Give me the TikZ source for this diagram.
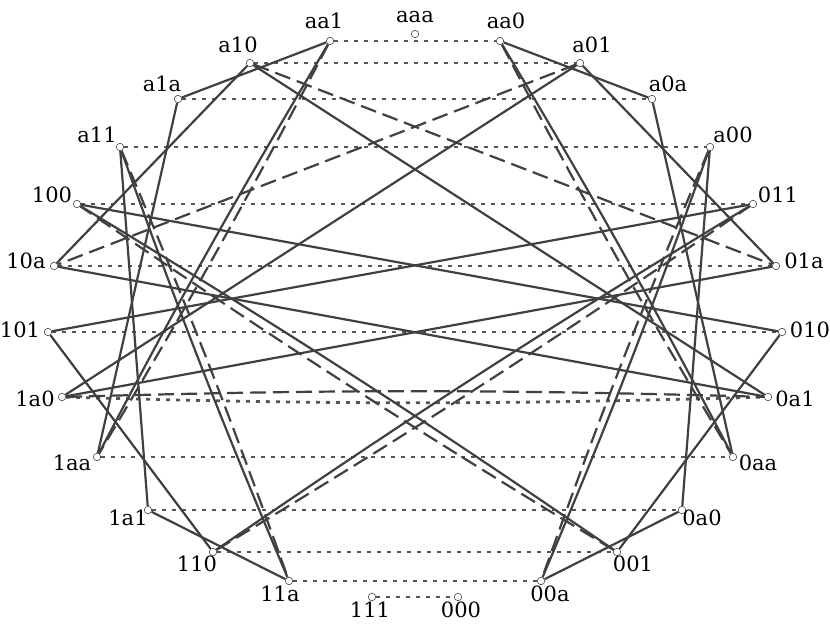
\documentclass[tikz,border=0pt]{standalone}
\usepackage{fontspec}
\setmainfont{DejaVu Serif}
\usetikzlibrary{backgrounds}
\definecolor{edgecol}{HTML}{404040}
\definecolor{dotcol}{HTML}{555555}
\begin{document}
\begin{tikzpicture}[x=1pt,y=1pt,
  vtx/.style={circle,draw=black!70,line width=0.6pt,fill=white,minimum size=7.5pt,inner sep=0pt},
  lab/.style={font=\fontsize{21}{24}\selectfont,inner sep=0pt,text=black,text height=0.85em,text depth=0pt},
  every label/.style={lab}, label distance=0pt,
  sol/.style={draw=edgecol,line width=2.2pt},
  dsh/.style={sol,dash pattern=on 16pt off 7pt},
  dtt/.style={draw=dotcol,line width=2.8pt,dash pattern=on 4pt off 6pt},
  bb/.style={bend left=1.6},
  br/.style={bend right=1.6}]
\useasboundingbox (0,0) rectangle (830,630);
% nodes
\node[vtx,label={[xshift=0pt,yshift=16pt]center:aaa}] (naaa) at (415,596) {};
\node[vtx,label={[xshift=-6pt,yshift=17pt]center:aa1}] (naa1) at (330,589) {};
\node[vtx,label={[xshift=6pt,yshift=17pt]center:aa0}] (naa0) at (500,589) {};
\node[vtx,label={[xshift=-12pt,yshift=15pt]center:a10}] (na10) at (250,567) {};
\node[vtx,label={[xshift=12pt,yshift=15pt]center:a01}] (na01) at (580,567) {};
\node[vtx,label={[xshift=-16pt,yshift=12pt]center:a1a}] (na1a) at (178,531) {};
\node[vtx,label={[xshift=16pt,yshift=12pt]center:a0a}] (na0a) at (652,531) {};
\node[vtx,label={[xshift=-23pt,yshift=9pt]center:a11}] (na11) at (120,483) {};
\node[vtx,label={[xshift=23pt,yshift=9pt]center:a00}] (na00) at (710,483) {};
\node[vtx,label={[xshift=-25pt,yshift=6pt]center:100}] (n100) at (77,426) {};
\node[vtx,label={[xshift=25pt,yshift=6pt]center:011}] (n011) at (753,426) {};
\node[vtx,label={[xshift=-28pt,yshift=2pt]center:10a}] (n10a) at (54,364) {};
\node[vtx,label={[xshift=28pt,yshift=2pt]center:01a}] (n01a) at (776,364) {};
\node[vtx,label={[xshift=-28pt,yshift=-1pt]center:101}] (n101) at (48,298) {};
\node[vtx,label={[xshift=28pt,yshift=-1pt]center:010}] (n010) at (782,298) {};
\node[vtx,label={[xshift=-27pt,yshift=-5pt]center:1a0}] (n1a0) at (62,233) {};
\node[vtx,label={[xshift=27pt,yshift=-5pt]center:0a1}] (n0a1) at (768,233) {};
\node[vtx,label={[xshift=-25pt,yshift=-9pt]center:1aa}] (n1aa) at (97,173) {};
\node[vtx,label={[xshift=25pt,yshift=-9pt]center:0aa}] (n0aa) at (733,173) {};
\node[vtx,label={[xshift=-20pt,yshift=-11pt]center:1a1}] (n1a1) at (148,120) {};
\node[vtx,label={[xshift=20pt,yshift=-11pt]center:0a0}] (n0a0) at (682,120) {};
\node[vtx,label={[xshift=-16pt,yshift=-15pt]center:110}] (n110) at (213,78) {};
\node[vtx,label={[xshift=16pt,yshift=-15pt]center:001}] (n001) at (617,78) {};
\node[vtx,label={[xshift=-9pt,yshift=-16pt]center:11a}] (n11a) at (289,49) {};
\node[vtx,label={[xshift=9pt,yshift=-16pt]center:00a}] (n00a) at (541,49) {};
\node[vtx,label={[xshift=-2pt,yshift=-16pt]center:111}] (n111) at (372,33) {};
\node[vtx,label={[xshift=3pt,yshift=-16pt]center:000}] (n000) at (458,33) {};
\begin{scope}[on background layer]
% dotted horizontal pairs
\draw[dtt] (naa1) -- (naa0);
\draw[dtt] (na10) -- (na01);
\draw[dtt] (na1a) -- (na0a);
\draw[dtt] (na11) -- (na00);
\draw[dtt] (n100) -- (n011);
\draw[dtt] (n10a) -- (n01a);
\draw[dtt] (n101) -- (n010);
\draw[dtt] (n1a0) to[br] (n0a1);
\draw[dtt] (n1aa) -- (n0aa);
\draw[dtt] (n1a1) -- (n0a0);
\draw[dtt] (n110) -- (n001);
\draw[dtt] (n11a) -- (n00a);
\draw[dtt] (n111) -- (n000);
% solid single edges
\draw[sol] (na1a) -- (naa1);
\draw[sol] (na0a) -- (naa0);
\draw[sol] (na10) -- (n10a);
\draw[sol] (na01) -- (n01a);
\draw[sol] (na10) -- (n0a1);
\draw[sol] (na01) -- (n1a0);
\draw[sol] (n10a) -- (n0a1);
\draw[sol] (n01a) -- (n1a0);
\draw[sol] (na1a) -- (n1aa);
\draw[sol] (na0a) -- (n0aa);
\draw[sol] (na11) -- (n1a1);
\draw[sol] (na00) -- (n0a0);
\draw[sol] (n100) -- (n010);
\draw[sol] (n011) -- (n101);
\draw[sol] (n101) -- (n110);
\draw[sol] (n010) -- (n001);
\draw[sol] (n1a1) -- (n11a);
\draw[sol] (n0a0) -- (n00a);
% dashed single edges
\draw[dsh] (na10) -- (n01a);
\draw[dsh] (na01) -- (n10a);
% double edges
\draw[dsh] (n1a0) to[bb] (n0a1);
\draw[dsh] (naa1) to[bb] (n1aa);
\draw[sol] (naa1) to[br] (n1aa);
\draw[dsh] (naa0) to[br] (n0aa);
\draw[sol] (naa0) to[bb] (n0aa);
\draw[dsh] (na11) to[bb] (n11a);
\draw[sol] (na11) to[br] (n11a);
\draw[dsh] (na00) to[br] (n00a);
\draw[sol] (na00) to[bb] (n00a);
\draw[sol] (n110) to[bb] (n011);
\draw[dsh] (n110) to[br] (n011);
\draw[sol] (n001) to[br] (n100);
\draw[dsh] (n001) to[bb] (n100);
\end{scope}
\end{tikzpicture}
\end{document}
